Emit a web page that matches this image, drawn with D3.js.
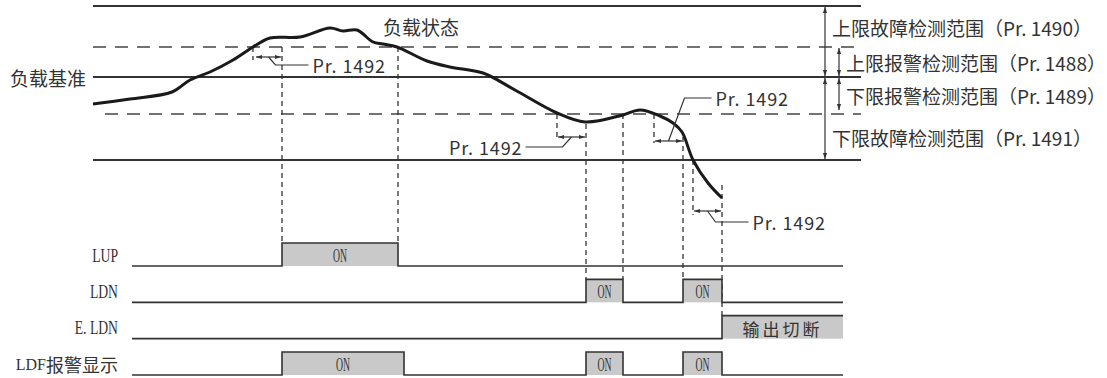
<!DOCTYPE html>
<html>
<head>
<meta charset="utf-8">
<script src="https://cdn.jsdelivr.net/npm/d3@7"></script>
<style>
  body { margin: 0; background: #fff; }
  svg { display: block; }
  text { fill: #333; }
</style>
</head>
<body>
<div id="chart"></div>
<script>
// load curve: time units, load units (100 = load reference)
const curveTime = [0, 37, 79, 97, 117, 140, 160, 177, 207, 237, 250, 264, 280, 290, 304, 334, 357, 390, 422, 464, 492, 530, 547, 567, 580, 589, 600, 615, 629];
const curveLoad = [73, 78, 85, 97, 105, 117, 130, 139, 140, 149, 146, 147, 135, 133, 130, 116, 110, 104, 87, 64, 55, 62, 67, 61, 54, 45, 17, -6, -21];

// detection levels
const levelValues = [171, 130, 100, 63, 17]; // upper fault, upper alarm, reference, lower alarm, lower fault
const rangeLabels = ["上限故障检测范围（Pr. 1490）", "上限报警检测范围（Pr. 1488）", "下限报警检测范围（Pr. 1489）", "下限故障检测范围（Pr. 1491）"];

// output signals
const signalNames = ["LUP", "LDN", "E. LDN", "LDF报警显示"];
const signalOn = [
  [[189, 305]],
  [[493, 530], [590, 629]],
  [[629, 750]],
  [[189, 311], [493, 530], [590, 629]]
];
const signalText = [["ON"], ["ON", "ON"], ["输出切断"], ["ON", "ON", "ON"]];
const signalStart = 39, signalEnd = 750;

// Pr.1492 delay windows
const delayStart = [162, 464, 561, 600];
const delayEnd = [189, 493, 590, 629];
const delayLoad = [120, 40, 36, -34];

// dashed marker lines: time, start load, end load (or null -> to signal row)
const markerTime = [160, 189, 305, 464, 493, 530, 561, 590, 600, 629];
const markerFrom = [130, 130, 130, 63, 53, 63, 63, 40, 17, -8];
const markerToLoad = [117, null, null, 37, null, null, 34, null, -38, null];
const markerToRow = [null, 0, 0, null, 1, 1, null, 1, null, 2];

const CJK = '"Noto Sans CJK SC", sans-serif';
const SERIF = '"Liberation Serif", "DejaVu Serif", serif';

const width = 1107, height = 378;
const x = d3.scaleLinear().domain([0, 768]).range([93, 861]);
const y = d3.scaleLinear().domain([0, 177]).range([177, 0]);
const rowY = d3.scalePoint().domain(signalNames).range([266, 375]); // baseline of each signal
const pulseH = 23;

const svg = d3.select("#chart").append("svg")
  .attr("width", width).attr("height", height)
  .style("font-family", CJK);

const defs = svg.append("defs");
defs.append("marker")
  .attr("id", "arr")
  .attr("viewBox", "0 0 10 10")
  .attr("refX", 10).attr("refY", 5)
  .attr("markerWidth", 6).attr("markerHeight", 6)
  .attr("markerUnits", "userSpaceOnUse")
  .attr("orient", "auto-start-reverse")
  .append("path").attr("d", "M0,1.5L10,5L0,8.5Z").attr("fill", "#333");

// level lines
svg.append("g").selectAll("line")
  .data([0, 2, 4])
  .join("line")
  .attr("x1", x(0)).attr("x2", x(768))
  .attr("y1", (i) => y(levelValues[i])).attr("y2", (i) => y(levelValues[i]))
  .attr("stroke", "#333").attr("stroke-width", 2);

svg.append("g").selectAll("line")
  .data([1, 3])
  .join("line")
  .attr("x1", (i) => (i === 1 ? x(0) : x(12))).attr("x2", x(768))
  .attr("y1", (i) => y(levelValues[i])).attr("y2", (i) => y(levelValues[i]))
  .attr("stroke", "#444").attr("stroke-width", 1.6)
  .attr("stroke-dasharray", "13,9");

// dashed markers
svg.append("g").selectAll("line")
  .data(markerTime)
  .join("line")
  .attr("x1", (d) => x(d)).attr("x2", (d) => x(d))
  .attr("y1", (d, i) => y(markerFrom[i]))
  .attr("y2", (d, i) => markerToLoad[i] !== null ? y(markerToLoad[i]) : rowY(signalNames[markerToRow[i]]) - pulseH)
  .attr("stroke", "#333").attr("stroke-width", 1.3)
  .attr("stroke-dasharray", "5,4");

// load curve
const line = d3.line()
  .x((d) => x(d[0]))
  .y((d) => y(d[1]))
  .curve(d3.curveCatmullRom.alpha(0.5));
svg.append("path")
  .datum(curveTime.map((t, i) => [t, curveLoad[i]]))
  .attr("d", line)
  .attr("fill", "none")
  .attr("stroke", "#1a1a1a").attr("stroke-width", 3)
  .attr("stroke-linejoin", "round");

// delay arrows and labels
const leaders = [
  { kx: 7, ky: 8, len: 33, anchor: "start" },
  { kx: -9, ky: 10, len: -37, anchor: "end" },
  { kx: 16, ky: -43, len: 27, anchor: "start" },
  { kx: 8, ky: 11, len: 33, anchor: "start" }
];
const dg = svg.append("g");
delayStart.forEach((s, i) => {
  const yy = y(delayLoad[i]);
  dg.append("line")
    .attr("x1", x(s) + 1).attr("x2", x(delayEnd[i]) - 1)
    .attr("y1", yy).attr("y2", yy)
    .attr("stroke", "#333").attr("stroke-width", 1.2)
    .attr("marker-start", "url(#arr)").attr("marker-end", "url(#arr)");
  const mx = (x(s) + x(delayEnd[i])) / 2;
  const L = leaders[i];
  const kx = mx + L.kx, ky = yy + L.ky, ex = kx + L.len;
  dg.append("path")
    .attr("d", `M${mx},${yy}L${kx},${ky}L${ex},${ky}`)
    .attr("fill", "none").attr("stroke", "#333").attr("stroke-width", 1.2);
  dg.append("text")
    .attr("x", L.anchor === "start" ? ex + 4 : ex - 3)
    .attr("y", ky)
    .attr("dominant-baseline", "central")
    .attr("text-anchor", L.anchor)
    .attr("font-size", 18)
    .attr("letter-spacing", 0.9)
    .text("Pr. 1492");
});

// range arrows on the right
const rangePairs = [[0, 2, 825], [1, 2, 839], [2, 3, 839], [2, 4, 825]];
svg.append("g").selectAll("line")
  .data(rangePairs)
  .join("line")
  .attr("x1", (d) => d[2]).attr("x2", (d) => d[2])
  .attr("y1", (d) => y(levelValues[d[0]]) + 1)
  .attr("y2", (d) => y(levelValues[d[1]]) - (d[1] === 3 ? 4 : 1))
  .attr("stroke", "#333").attr("stroke-width", 1.2)
  .attr("marker-start", "url(#arr)").attr("marker-end", "url(#arr)");

svg.append("g").selectAll("text")
  .data(rangePairs)
  .join("text")
  .attr("x", (d) => d[2] + 7)
  .attr("y", (d, i) => (y(levelValues[i]) + y(levelValues[i + 1])) / 2 + (i === 0 ? 1 : 0))
  .attr("dominant-baseline", "central")
  .attr("font-size", 19)
  .text((d, i) => rangeLabels[i]);

// curve labels
svg.append("text")
  .attr("x", x(-7)).attr("y", y(levelValues[2]))
  .attr("text-anchor", "end").attr("dominant-baseline", "central")
  .attr("font-size", 19)
  .text("负载基准");
svg.append("text")
  .attr("x", x(290)).attr("y", 26)
  .attr("dominant-baseline", "central")
  .attr("font-size", 19)
  .text("负载状态");

// signal rows
const sg = svg.append("g");
signalNames.forEach((name, r) => {
  const base = rowY(name), high = base - pulseH;
  const ons = signalOn[r];
  ons.forEach((iv, k) => {
    sg.append("rect")
      .attr("x", x(iv[0])).attr("y", high)
      .attr("width", x(iv[1]) - x(iv[0])).attr("height", pulseH)
      .attr("fill", "#c9c9c9");
    const label = signalText[r][k];
    const cx = (x(iv[0]) + x(iv[1])) / 2;
    if (label === "ON") {
      sg.append("text")
        .attr("x", cx - 7).attr("y", base - pulseH / 2 + 1)
        .attr("dominant-baseline", "central")
        .style("font-family", SERIF).attr("font-size", 19)
        .attr("textLength", 14).attr("lengthAdjust", "spacingAndGlyphs")
        .text(label);
    } else {
      sg.append("text")
        .attr("x", cx).attr("y", base - pulseH / 2 + 1)
        .attr("text-anchor", "middle").attr("dominant-baseline", "central")
        .attr("font-size", 17).attr("letter-spacing", 3).text(label);
    }
  });
  // waveform
  let d = `M${x(signalStart)},${base}`;
  ons.forEach((iv) => {
    d += `L${x(iv[0])},${base}L${x(iv[0])},${high}`;
    if (iv[1] < signalEnd) d += `L${x(iv[1])},${high}L${x(iv[1])},${base}`;
    else d += `L${x(iv[1])},${high}`;
  });
  const last = ons[ons.length - 1];
  if (last[1] < signalEnd) d += `L${x(signalEnd)},${base}`;
  sg.append("path").attr("d", d)
    .attr("fill", "none").attr("stroke", "#333").attr("stroke-width", 1.6);

  // row label: latin part in condensed serif, CJK part in sans
  const m = name.match(/^([A-Za-z. ]+)(.*)$/);
  const latin = m[1], cjk = m[2];
  if (cjk) {
    const t = sg.append("text")
      .attr("x", 118).attr("y", base - 11)
      .attr("text-anchor", "end").attr("dominant-baseline", "central");
    t.append("tspan").style("font-family", SERIF).attr("font-size", 16).text(latin);
    t.append("tspan").attr("font-size", 18).text(cjk);
  } else {
    const lt = sg.append("text")
      .attr("y", base - 11)
      .attr("dominant-baseline", "central")
      .style("font-family", SERIF).attr("font-size", 19)
      .text(latin);
    const w = lt.node().getComputedTextLength() * 0.72;
    lt.attr("x", 118 - w)
      .attr("textLength", w).attr("lengthAdjust", "spacingAndGlyphs");
  }
});
</script>
</body>
</html>
